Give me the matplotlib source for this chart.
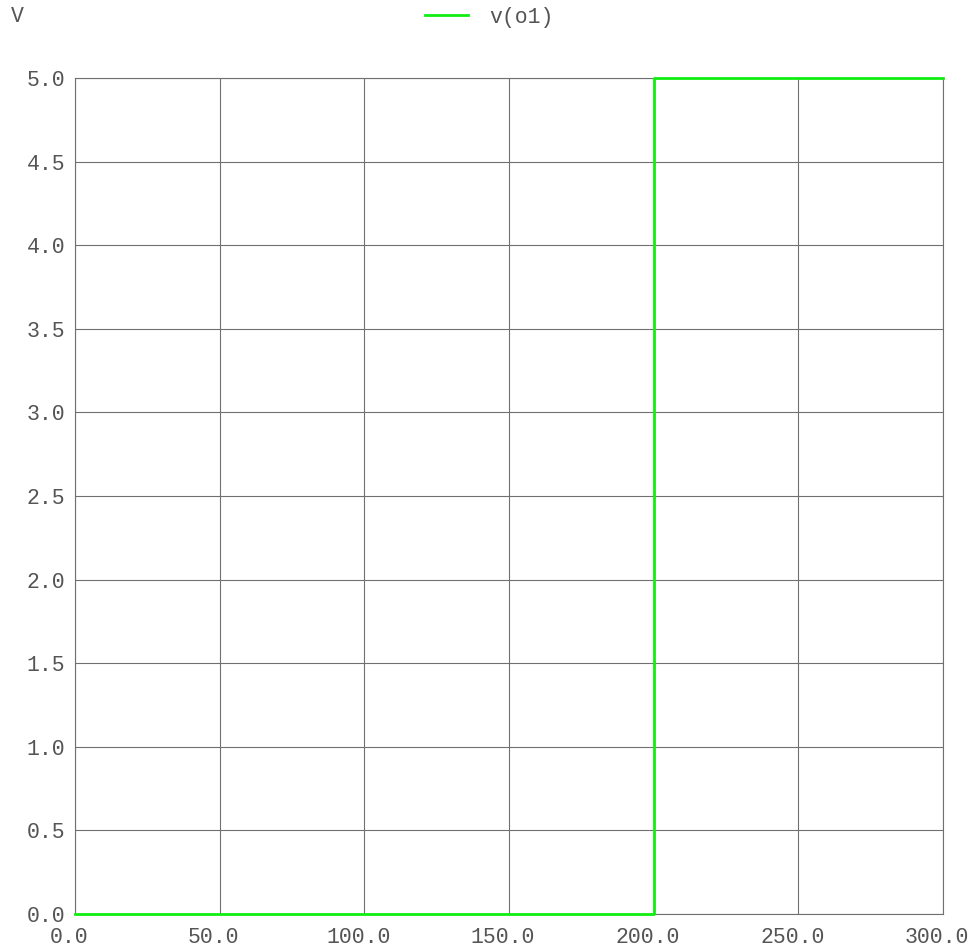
import numpy as np
import matplotlib
matplotlib.use("Agg")
import matplotlib.pyplot as plt
import matplotlib.transforms as mtransforms

# transient result: v(o1) steps from 0 V to 5 V at t = 200
time = [0.0, 200.0, 200.0, 300.0]
v_o1 = [0.0, 0.0, 5.0, 5.0]

x_ticks = [0.0, 50.0, 100.0, 150.0, 200.0, 250.0, 300.0]
y_ticks = [0.0, 0.5, 1.0, 1.5, 2.0, 2.5, 3.0, 3.5, 4.0, 4.5, 5.0]

plt.rcParams["font.family"] = ["Liberation Mono", "DejaVu Sans Mono"]
text_color = "#555555"
grid_color = "#707070"

fig = plt.figure(figsize=(9.73, 9.5), dpi=100)
ax = fig.add_axes([75 / 973, 1 - 914 / 950, 868 / 973, 836 / 950])

ax.plot(time, v_o1, color="#11ee11", linewidth=2.0, label="v(o1)", zorder=3,
        clip_on=False)

ax.set_xlim(0, 300)
ax.set_ylim(0, 5)
ax.set_xticks(x_ticks)
ax.set_yticks(y_ticks)
ax.set_xticklabels([f"{t:.1f}" for t in x_ticks])
ax.set_yticklabels([f"{t:.1f}" for t in y_ticks])
ax.tick_params(length=0, labelsize=15.5, colors=text_color)
ax.tick_params(axis="y", pad=7)
ax.tick_params(axis="x", pad=9.5)
ax.grid(True, color=grid_color, linewidth=0.8)
for s in ax.spines.values():
    s.set_color(grid_color)
    s.set_linewidth(0.8)

# x labels sit a little left of their ticks in the original
shift = mtransforms.ScaledTranslation(-6 / 100, 0, fig.dpi_scale_trans)
for lbl in ax.get_xticklabels():
    lbl.set_transform(lbl.get_transform() + shift)

fig.text(11 / 973, 1 - 17 / 950, "V", fontsize=15.5, color=text_color, va="center")
fig.legend(loc="center", bbox_to_anchor=(489 / 973, 1 - 17 / 950), frameon=False,
           fontsize=15.5, labelcolor=text_color, handlelength=2.0, handletextpad=1.0)

plt.savefig("out.png", dpi=100)
